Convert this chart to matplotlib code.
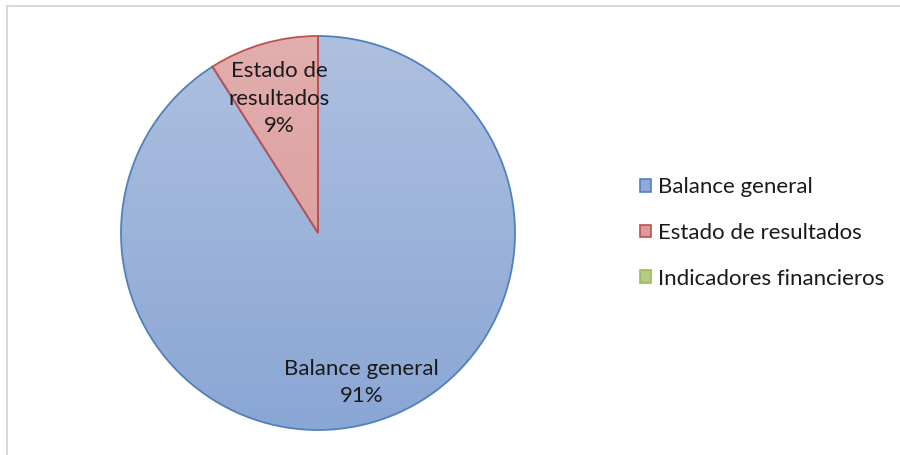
import numpy as np
import matplotlib
matplotlib.use("Agg")
import matplotlib.pyplot as plt
from matplotlib.patches import Patch
from matplotlib.colors import LinearSegmentedColormap
from matplotlib.lines import Line2D

categories = ["Balance general", "Estado de resultados", "Indicadores financieros"]
values = [91, 9, 0]
pct_labels = ["91%", "9%", "0%"]
label_text = ["Balance general\n91%", "Estado de\nresultados\n9%"]

edge_colors = ["#4F81BD", "#C0504D", "#9BBB59"]
grad_top = ["#AEC0DF", "#E3AEAE", "#C4D79B"]
grad_bot = ["#8AA6D5", "#D99594", "#A8C273"]
legend_fill = ["#8FAAD8", "#DB9A99", "#B3CB84"]

plt.rcParams['font.family'] = ['Lato', 'DejaVu Sans']

fig = plt.figure(figsize=(9, 4.55), dpi=100)
fig.patch.set_facecolor("white")

# chart frame (top and left visible)
fig.add_artist(Line2D([7/900, 1], [1-6/455, 1-6/455], color="#D9D9D9", lw=1.5))
fig.add_artist(Line2D([7/900, 7/900], [0, 1-6/455], color="#D9D9D9", lw=1.5))

R = 197
cx, cy = 318, 233
half = 200
ax = fig.add_axes([(cx-half)/900, (455-cy-half)/455, 2*half/900, 2*half/455])
ax.set_xlim(-half, half)
ax.set_ylim(-half, half)
ax.set_aspect("equal")
ax.axis("off")

wedges, _ = ax.pie(values, radius=R, startangle=90, counterclock=False,
                   colors=["none"]*3, wedgeprops=dict(linewidth=1.3))
for i, w in enumerate(wedges):
    w.set_edgecolor(edge_colors[i])
    w.set_zorder(3)
    if values[i] == 0:
        w.set_linewidth(0)
        continue
    cmap = LinearSegmentedColormap.from_list("g%d" % i, [grad_bot[i], grad_top[i]])
    grad = np.linspace(0, 1, 256).reshape(-1, 1)
    im = ax.imshow(grad, cmap=cmap, extent=[-R, R, -R, R], origin="lower",
                   aspect="auto", zorder=2)
    im.set_clip_path(w)
ax.set_xlim(-half, half)
ax.set_ylim(-half, half)

# data labels
dists = [0.79, 0.71]
total = sum(values)
start = 0.0
for i in range(2):
    frac_mid = (start + values[i] / 2) / total
    ang = np.deg2rad(90 - 360 * frac_mid)
    start += values[i]
    x = dists[i] * R * np.cos(ang)
    y = dists[i] * R * np.sin(ang)
    ax.text(x, y, label_text[i], ha="center", va="center", fontsize=16,
            color="#1a1a1a", linespacing=1.45, zorder=5)

handles = [Patch(facecolor=legend_fill[i], edgecolor=edge_colors[i], lw=1.2)
           for i in range(3)]
fig.legend(handles, categories, loc="center left",
           bbox_to_anchor=(620/900, 1-233/455), frameon=False,
           fontsize=16, handlelength=0.5, handleheight=0.5,
           handletextpad=0.3, labelspacing=1.15, labelcolor="#1a1a1a")

fig.savefig("out.png", dpi=100, facecolor="white")
